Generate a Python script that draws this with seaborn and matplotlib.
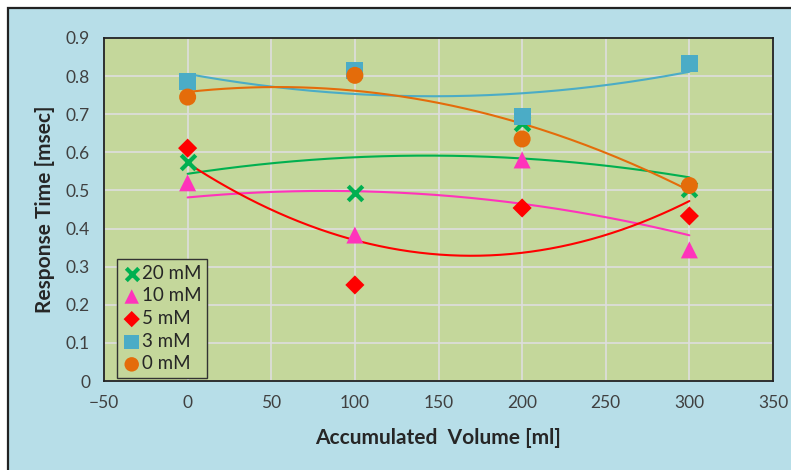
import numpy as np
import pandas as pd
import seaborn as sns
import matplotlib.pyplot as plt
from matplotlib.patches import Rectangle

volume = [0, 100, 200, 300]
labels = ['20 mM', '10 mM', '5 mM', '3 mM', '0 mM']
mM20 = [0.575, 0.493, 0.678, 0.503]
mM10 = [0.520, 0.383, 0.580, 0.344]
mM5 = [0.611, 0.252, 0.454, 0.433]
mM3 = [0.785, 0.815, 0.693, 0.832]
mM0 = [0.745, 0.802, 0.635, 0.513]

colors = ['#00b050', '#ff33bb', '#ff0000', '#4bacc6', '#e46c0a']
markers = ['X', '^', 'D', 's', 'o']
sizes = [150, 150, 95, 150, 150]

sns.set_style("white")
plt.rcParams['font.family'] = ['Lato', 'DejaVu Sans']

fig = plt.figure(figsize=(7.91, 4.70), dpi=100)
fig.patch.set_facecolor('white')
fig.patches.append(Rectangle((8 / 791, -0.01), 1.0, 1.01 - 8 / 470,
                             transform=fig.transFigure, facecolor='#b7dee8',
                             edgecolor='#222222', lw=1.6, zorder=-1))
ax = fig.add_axes([104 / 791, 1 - 381 / 470, 669 / 791, 343 / 470])
ax.set_facecolor('#c4d79b')

xs = np.linspace(0, 300, 200)
series = [mM20, mM10, mM5, mM3, mM0]
for vals, c in zip(series, colors):
    # trendline: 2nd order polynomial fit, like the spreadsheet
    coef = np.polyfit(volume, vals, 2)
    sns.lineplot(x=xs, y=np.polyval(coef, xs), color=c, lw=1.5, ax=ax, zorder=2)
for vals, lab, c, m, s in zip(series, labels, colors, markers, sizes):
    df = pd.DataFrame({'x': volume, 'y': vals})
    if m == 'X':
        sns.scatterplot(data=df, x='x', y='y', marker='x', s=110, color=c,
                        linewidth=3, ax=ax, label=lab, zorder=3)
    else:
        sns.scatterplot(data=df, x='x', y='y', marker=m, s=s, color=c,
                        edgecolor='none', ax=ax, label=lab, zorder=3)

ax.set_xlim(-50, 350)
ax.set_ylim(0, 0.9)
ax.set_xticks(range(-50, 351, 50))
ax.set_yticks(np.arange(0, 0.91, 0.1))
ax.set_yticklabels(['0'] + ['%.1f' % v for v in np.arange(0.1, 0.91, 0.1)])
ax.grid(True, color='#dedede', lw=1.2)
ax.set_axisbelow(True)
for sp in ax.spines.values():
    sp.set_color('#222222')
    sp.set_linewidth(1.3)
ax.tick_params(axis='both', direction='inout', length=8, width=1.3,
               color='#222222', labelsize=12.5, labelcolor='#404040', pad=6)
ax.set_xlabel('Accumulated  Volume [ml]', fontsize=15, fontweight='bold',
              labelpad=12)
ax.set_ylabel('Response Time [msec]', fontsize=15, fontweight='bold',
              labelpad=8)

leg = ax.legend(loc='lower left', bbox_to_anchor=(0.019, 0.009),
                borderaxespad=0, fontsize=13.5, frameon=True, fancybox=False,
                handletextpad=0.05, handlelength=1.0, labelspacing=0.3,
                borderpad=0.3, markerscale=0.85)
leg.get_frame().set_facecolor('#c4d79b')
leg.get_frame().set_edgecolor('#333333')
leg.get_frame().set_alpha(1)

fig.savefig('out.png', dpi=100)
